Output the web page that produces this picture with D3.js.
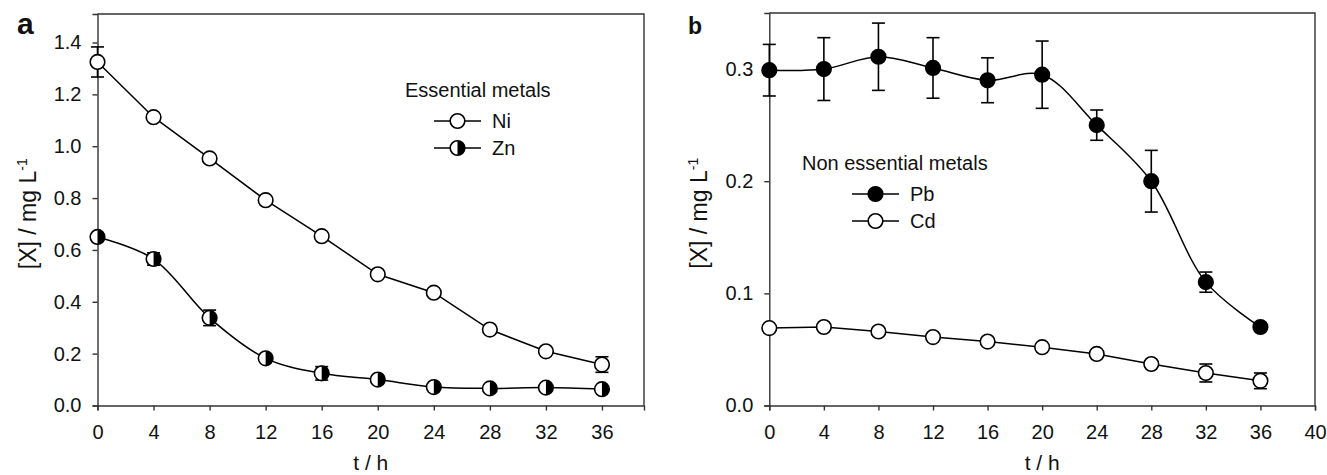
<!DOCTYPE html>
<html>
<head>
<meta charset="utf-8">
<script src="https://cdn.jsdelivr.net/npm/d3@7"></script>
<style>
  body { margin: 0; background: #fff; }
  text { font-family: "Liberation Sans", Arial, sans-serif; fill: #111; }
  .axis path, .axis line { stroke: #333; stroke-width: 1.4; }
  .axis text { font-size: 20px; }
</style>
</head>
<body>
<div id="viz"></div>
<script>
  // sampling times (h)
  var time = [0, 4, 8, 12, 16, 20, 24, 28, 32, 36];

  // panel a - essential metals
  var ni    = [1.325, 1.112, 0.953, 0.792, 0.653, 0.506, 0.435, 0.293, 0.209, 0.158];
  var niErr = [0.058, 0.01, 0.01, 0.01, 0.01, 0.01, 0.01, 0.01, 0.01, 0.03];
  var zn    = [0.650, 0.565, 0.338, 0.182, 0.124, 0.100, 0.071, 0.066, 0.069, 0.063];
  var znErr = [0.01, 0.024, 0.03, 0.01, 0.026, 0.01, 0.01, 0.01, 0.01, 0.01];

  // panel b - non essential metals
  var pb    = [0.299, 0.300, 0.311, 0.301, 0.290, 0.295, 0.250, 0.200, 0.110, 0.070];
  var pbErr = [0.023, 0.028, 0.030, 0.027, 0.020, 0.030, 0.0135, 0.0275, 0.009, 0.002];
  var cd    = [0.069, 0.070, 0.066, 0.061, 0.057, 0.052, 0.046, 0.037, 0.029, 0.022];
  var cdErr = [0.002, 0.002, 0.002, 0.002, 0.002, 0.002, 0.002, 0.002, 0.008, 0.007];

  var aTicksX = [0, 4, 8, 12, 16, 20, 24, 28, 32, 36];
  var aTicksY = [0, 0.2, 0.4, 0.6, 0.8, 1.0, 1.2, 1.4];
  var bTicksX = [0, 4, 8, 12, 16, 20, 24, 28, 32, 36, 40];
  var bTicksY = [0, 0.1, 0.2, 0.3];

  var width = 1327, height = 475;
  var svg = d3.select("#viz").append("svg")
    .attr("width", width)
    .attr("height", height);

  var R = 7.3;

  function panel(opt) {
    var x = d3.scaleLinear().domain(opt.xDomain).range([opt.left, opt.right]);
    var y = d3.scaleLinear().domain(opt.yDomain).range([opt.bottom, opt.top]);
    var g = svg.append("g");

    // top + right frame
    g.append("path")
      .attr("d", "M" + opt.left + "," + opt.top + "H" + opt.right + "V" + opt.bottom)
      .attr("fill", "none").attr("stroke", "#333").attr("stroke-width", 1.4);

    g.append("g").attr("class", "axis")
      .attr("transform", "translate(0," + opt.bottom + ")")
      .call(d3.axisBottom(x).tickValues(opt.ticksX).tickSizeOuter(0).tickSize(5).tickPadding(14)
        .tickFormat(d3.format("d")));

    g.append("g").attr("class", "axis")
      .attr("transform", "translate(" + opt.left + ",0)")
      .call(d3.axisLeft(y).tickValues(opt.ticksY).tickSizeOuter(0).tickSize(5).tickPadding(11)
        .tickFormat(d3.format(".1f")));

    // titles
    g.append("text")
      .attr("x", (opt.left + opt.right) / 2).attr("y", 470)
      .attr("text-anchor", "middle").style("font-size", "21px")
      .text("t / h");

    var yl = g.append("text")
      .attr("transform", "translate(" + opt.ylabX + "," + ((opt.top + opt.bottom) / 2 + 4) + ") rotate(-90)")
      .attr("text-anchor", "middle").style("font-size", "23px");
    yl.append("tspan").text("[X] / mg L");
    yl.append("tspan").attr("dy", -9).style("font-size", "14px").text("-1");

    g.append("text")
      .attr("x", opt.labX).attr("y", 34)
      .style("font-size", opt.labSize + "px").style("font-weight", "bold")
      .text(opt.label);

    opt.series.forEach(function(s) {
      var pts = time.map(function(t, i) { return { t: t, v: s.values[i], e: s.err[i] }; });
      var line = d3.line()
        .x(function(d) { return x(d.t); })
        .y(function(d) { return y(d.v); })
        .curve(s.smooth ? d3.curveCatmullRom.alpha(0.5) : d3.curveLinear);
      g.append("path").datum(pts)
        .attr("d", line)
        .attr("fill", "none").attr("stroke", "#000").attr("stroke-width", 1.5);

      var eb = g.append("g").attr("stroke", "#000").attr("stroke-width", 1.6);
      pts.forEach(function(d) {
        var cx = x(d.t), y1 = y(d.v + d.e), y2 = y(d.v - d.e);
        eb.append("line").attr("x1", cx).attr("x2", cx).attr("y1", y1).attr("y2", y2);
        eb.append("line").attr("x1", cx - 6.5).attr("x2", cx + 6.5).attr("y1", y1).attr("y2", y1);
        eb.append("line").attr("x1", cx - 6.5).attr("x2", cx + 6.5).attr("y1", y2).attr("y2", y2);
      });

      pts.forEach(function(d) {
        marker(g, x(d.t), y(d.v), s.style);
      });
    });

    // legend
    var lg = opt.legend;
    g.append("text").attr("x", lg.x).attr("y", lg.y)
      .style("font-size", "20px").text(lg.title);
    opt.series.forEach(function(s, i) {
      var cy = lg.y + 24 + i * 27;
      g.append("line")
        .attr("x1", lg.lx).attr("x2", lg.lx + 47).attr("y1", cy).attr("y2", cy)
        .attr("stroke", "#000").attr("stroke-width", 1.5);
      marker(g, lg.lx + 23.5, cy, s.style);
      g.append("text").attr("x", lg.lx + 58).attr("y", cy + 7)
        .style("font-size", "20px").text(s.name);
    });
  }

  function marker(g, cx, cy, style) {
    g.append("circle").attr("cx", cx).attr("cy", cy).attr("r", R)
      .attr("fill", style === "filled" ? "#000" : "#fff");
    if (style === "half") {
      g.append("path")
        .attr("d", "M" + cx + "," + (cy - R) + "A" + R + "," + R + " 0 0,1 " + cx + "," + (cy + R) + "Z")
        .attr("fill", "#000");
    }
    g.append("circle").attr("cx", cx).attr("cy", cy).attr("r", R)
      .attr("fill", "none").attr("stroke", "#000").attr("stroke-width", 1.6);
  }

  panel({
    left: 97.5, right: 644, top: 14, bottom: 405.5,
    xDomain: [0, 39], yDomain: [0, 1.51],
    ticksX: aTicksX, ticksY: aTicksY,
    ylabX: 36, labX: 17, label: "a", labSize: 30,
    legend: { title: "Essential metals", x: 405, y: 97, lx: 434 },
    series: [
      { name: "Ni", values: ni, err: niErr, style: "open", smooth: false },
      { name: "Zn", values: zn, err: znErr, style: "half", smooth: true }
    ]
  });

  panel({
    left: 769.3, right: 1315, top: 13, bottom: 405.5,
    xDomain: [0, 40], yDomain: [0, 0.35],
    ticksX: bTicksX, ticksY: bTicksY,
    ylabX: 707, labX: 688, label: "b", labSize: 23,
    legend: { title: "Non essential metals", x: 802, y: 170, lx: 852 },
    series: [
      { name: "Pb", values: pb, err: pbErr, style: "filled", smooth: true },
      { name: "Cd", values: cd, err: cdErr, style: "open", smooth: false }
    ]
  });
</script>
</body>
</html>
